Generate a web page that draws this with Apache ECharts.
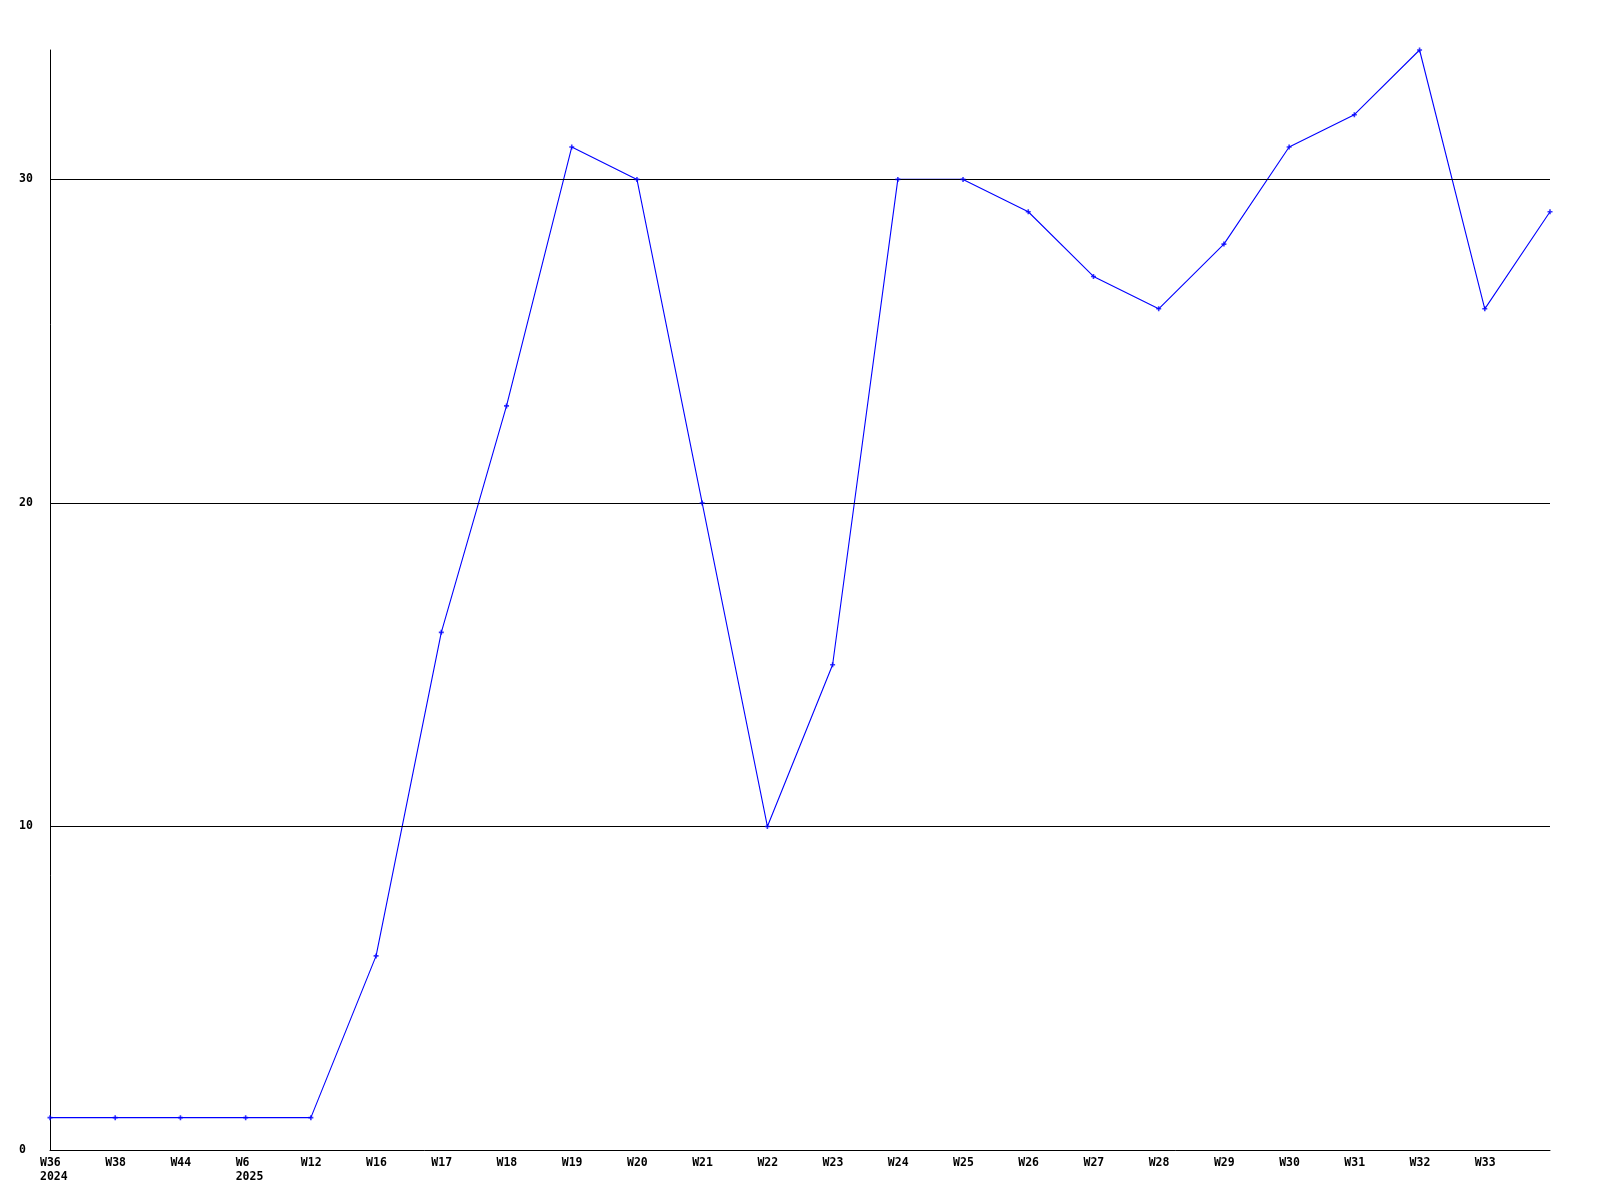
<!DOCTYPE html>
<html>
<head>
<meta charset="utf-8">
<script src="https://cdn.jsdelivr.net/npm/echarts@6/dist/echarts.min.js"></script>
<style>html,body{margin:0;padding:0;background:#fff}#c{width:1600px;height:1200px}</style>
</head>
<body>
<div id="c"></div>
<script>
const categories = ['W36','W38','W44','W6','W12','W16','W17','W18','W19','W20','W21','W22','W23','W24','W25','W26','W27','W28','W29','W30','W31','W32','W33','W34'];
const yearLabels = ['2024','','','2025','','','','','','','','','','','','','','','','','','','',''];
const values = [1,1,1,1,1,6,16,23,31,30,20,10,15,30,30,29,27,26,28,31,32,34,26,29];
const yTicks = [0,10,20,30];

const font = '"DejaVu Sans Mono", monospace';
const chart = echarts.init(document.getElementById('c'), null, {renderer:'canvas'});
chart.setOption({
  animation: false,
  backgroundColor: '#fff',
  grid: {left: 50, right: 50, top: 50, bottom: 50, containLabel: false},
  xAxis: {
    type: 'category', data: categories, boundaryGap: false,
    axisLine: {lineStyle: {color: '#000', width: 1}},
    axisTick: {show: false},
    splitLine: {show: false},
    axisLabel: {
      interval: function(i){ return i < categories.length - 1; },
      formatter: function(v, i){ return yearLabels[i] ? v + '\n' + yearLabels[i] : v; },
      color: '#000', fontFamily: font, fontWeight: 'bold', fontSize: 11.5,
      lineHeight: 14, align: 'left', padding: [0,0,0,-10], margin: 6
    }
  },
  yAxis: {
    type: 'value', min: 0, max: 34, interval: 10, z: 3,
    axisLine: {show: true, lineStyle: {color: '#000', width: 1}},
    axisTick: {show: false},
    splitLine: {show: true, showMinLine: false, showMaxLine: false, lineStyle: {color: '#000', width: 1}},
    axisLabel: {
      showMaxLabel: false,
      formatter: function(v){ return yTicks.indexOf(v) >= 0 ? String(v) : ''; },
      color: '#000', fontFamily: font, fontWeight: 'bold', fontSize: 11.5,
      align: 'left', margin: 31, padding: [3,0,0,0]
    }
  },
  series: [
    {type: 'line', data: values, z: 1, symbol: 'none',
     lineStyle: {color: '#0000ff', width: 1.1}, silent: true},
    {type: 'scatter', data: values, z: 5,
     symbol: 'path://M1.7,0H3.3V1.7H5V3.3H3.3V5H1.7V3.3H0V1.7H1.7Z', symbolSize: 5,
     itemStyle: {color: '#0000ff'}, silent: true}
  ]
});
</script>
</body>
</html>
